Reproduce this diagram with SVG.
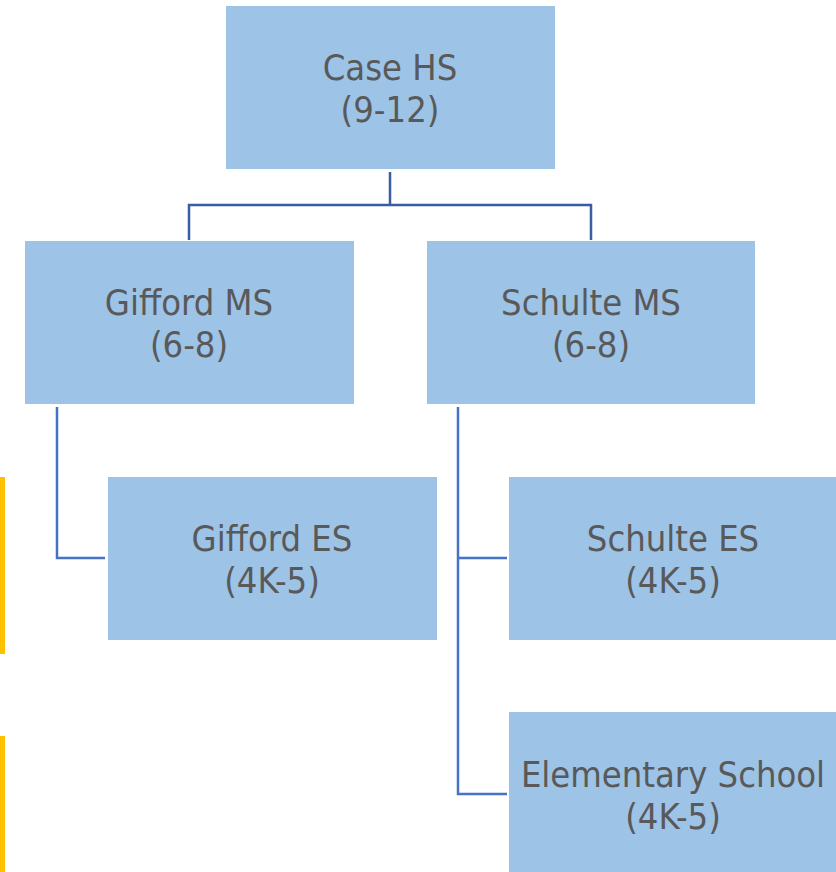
<svg xmlns="http://www.w3.org/2000/svg" width="836" height="872" viewBox="0 0 836 872">
<style>
.box{fill:#9DC3E6}
.t{font-family:"DejaVu Sans Condensed","DejaVu Sans",sans-serif;font-stretch:condensed;font-size:36px;fill:#595959;text-anchor:middle}
.c{fill:none;stroke:#4472C4;stroke-width:2.5}
.c2{fill:none;stroke:#3A5DA0;stroke-width:2.5}
.bar{fill:#FFC000}
</style>
<rect width="836" height="872" fill="#fff"/>
<rect class="bar" x="0" y="477" width="5" height="177"/>
<rect class="bar" x="0" y="736" width="5" height="136"/>
<g id="connectors">
<path class="c2" d="M390 172V205M189 240V205H591V240"/>
<path class="c" d="M57 407V558H105"/>
<path class="c" d="M458 407V794H507M458 558H507"/>
</g>
<g id="case-hs"><rect class="box" x="226" y="6" width="329" height="163"/><text class="t" x="390" y="80">Case HS</text><text class="t" x="390" y="122">(9-12)</text></g>
<g id="gifford-ms"><rect class="box" x="25" y="241" width="329" height="163"/><text class="t" x="189" y="315">Gifford MS</text><text class="t" x="189" y="357">(6-8)</text></g>
<g id="schulte-ms"><rect class="box" x="427" y="241" width="328" height="163"/><text class="t" x="591" y="315">Schulte MS</text><text class="t" x="591" y="357">(6-8)</text></g>
<g id="gifford-es"><rect class="box" x="108" y="477" width="329" height="163"/><text class="t" x="272" y="551">Gifford ES</text><text class="t" x="272" y="593">(4K-5)</text></g>
<g id="schulte-es"><rect class="box" x="509" y="477" width="330" height="163"/><text class="t" x="673" y="551">Schulte ES</text><text class="t" x="673" y="593">(4K-5)</text></g>
<g id="elementary-school"><rect class="box" x="509" y="712" width="330" height="163"/><text class="t" x="673" y="787">Elementary School</text><text class="t" x="673" y="829">(4K-5)</text></g>
</svg>
